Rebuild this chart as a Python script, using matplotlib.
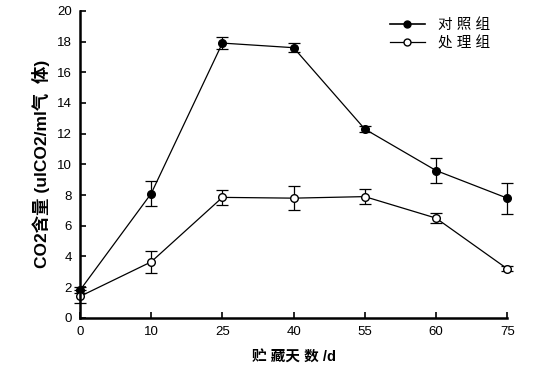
import matplotlib.pyplot as plt
from matplotlib.lines import Line2D

plt.rcParams['font.family'] = ['Liberation Sans', 'Noto Sans CJK SC']

days = ['0', '10', '25', '40', '55', '60', '75']
control = [1.8, 8.1, 17.9, 17.6, 12.3, 9.6, 7.8]
control_err = [0.2, 0.8, 0.4, 0.3, 0.2, 0.8, 1.0]
treated = [1.4, 3.65, 7.85, 7.8, 7.9, 6.5, 3.2]
treated_err = [0.4, 0.7, 0.5, 0.8, 0.5, 0.35, 0.15]

fig = plt.figure(figsize=(5.57, 3.74), dpi=100)
ax = fig.add_axes([0.1436, 0.150, 0.767, 0.821])

x = range(len(days))
ax.errorbar(x, control, yerr=control_err, color='black', lw=0.9,
            marker='o', ms=5.5, mfc='black', mec='black',
            capsize=4, elinewidth=0.9, capthick=0.9, clip_on=False)
ax.errorbar(x, treated, yerr=treated_err, color='black', lw=0.9,
            marker='o', ms=5.5, mfc='white', mec='black',
            capsize=4, elinewidth=0.9, capthick=0.9, clip_on=False)

ax.set_xlim(0, len(days) - 1)
ax.set_ylim(0, 20)
ax.set_xticks(list(x))
ax.set_xticklabels(days)
ax.set_yticks(range(0, 21, 2))
ax.tick_params(direction='in', length=4, width=1.2, labelsize=9.5, pad=6)
for s in ['top', 'right']:
    ax.spines[s].set_visible(False)
for s in ['left', 'bottom']:
    ax.spines[s].set_linewidth(1.8)

ax.set_ylabel('CO2含量 (ulCO2/ml气  体)', fontsize=12.5, fontweight='bold', labelpad=5)
ax.set_xlabel('贮 藏天 数 /d', fontsize=10.5, fontweight='bold', labelpad=9)

# 图例只画线和点，不带误差线
handles = [
    Line2D([], [], color='black', lw=1.2, marker='o', ms=5, mfc='black', mec='black'),
    Line2D([], [], color='black', lw=0.9, marker='o', ms=5, mfc='white', mec='black'),
]
ax.legend(handles, ['对 照 组', '处 理 组'], loc='upper right',
          bbox_to_anchor=(0.99, 1.02), frameon=False, fontsize=10.5,
          handlelength=2.4, handletextpad=0.9, labelspacing=0.3)

fig.savefig('out.png', dpi=100)
